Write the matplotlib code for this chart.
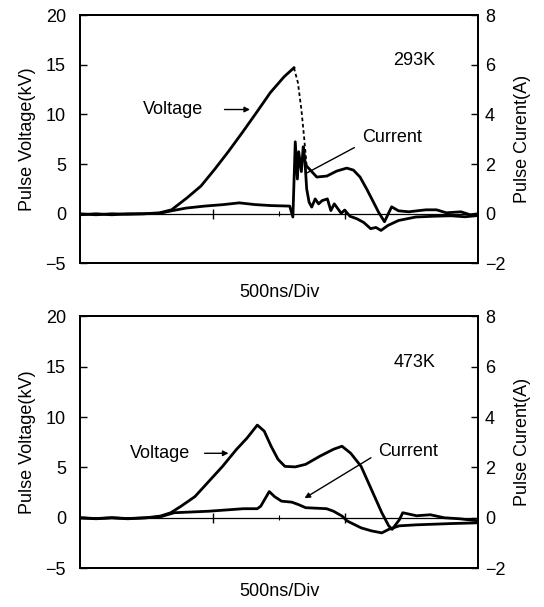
import matplotlib.pyplot as plt

plt.rcParams['font.family'] = ['Liberation Sans', 'DejaVu Sans']

# --- 293K: pulse voltage (kV) and current (A), time in ns (500ns/Div) ---
t_v1 = [0, 60, 120, 180, 240, 300, 345, 403, 456, 508, 560, 612, 665, 717, 769, 806,
        821, 834, 845, 854,
        892, 930, 967, 1005, 1030, 1055, 1080, 1105, 1124, 1147, 1174, 1200, 1239,
        1270, 1304, 1343, 1380, 1435, 1470, 1500]
v1 = [-0.1, 0.0, -0.1, 0.0, 0.0, 0.1, 0.4, 1.6, 2.8, 4.5, 6.3, 8.2, 10.2, 12.2, 13.8, 14.7,
      13.2, 10.5, 7.5, 4.8,
      3.7, 3.8, 4.3, 4.6, 4.4, 3.7, 2.5, 1.2, 0.2, -0.8, 0.7, 0.3, 0.2,
      0.3, 0.4, 0.4, 0.1, 0.2, -0.1, 0.0]
i_peak1, i_drop1 = 15, 19

t_i1 = [0, 60, 120, 180, 240, 300, 345, 400, 470, 540, 600, 660, 720, 790, 802,
        811, 819, 824, 834, 841, 847, 854, 863, 873, 886, 899, 912, 932, 945, 958,
        984, 997, 1017, 1043, 1069, 1095, 1115, 1134, 1160, 1200, 1265, 1330, 1396, 1450, 1500]
i1 = [0.0, -0.04, 0.0, -0.02, 0.0, 0.02, 0.12, 0.23, 0.31, 0.37, 0.44, 0.37, 0.33, 0.31, -0.13,
      2.9, 1.4, 2.5, 1.7, 2.7, 2.2, 1.0, 0.47, 0.27, 0.6, 0.4, 0.53, 0.6, 0.13, 0.4,
      0.02, 0.15, -0.1, -0.2, -0.35, -0.6, -0.55, -0.67, -0.47, -0.27, -0.13, -0.1, -0.08, -0.12, -0.07]

# --- 473K ---
t_v2 = [0, 60, 120, 180, 250, 303, 342, 381, 433, 485, 537, 590, 629, 668, 694, 720,
        746, 772, 811, 850, 903, 955, 987, 1020, 1059, 1098, 1137, 1163, 1176, 1203,
        1216, 1268, 1320, 1372, 1430, 1500]
v2 = [0.0, -0.1, 0.0, -0.1, 0.0, 0.17, 0.5, 1.15, 2.1, 3.6, 5.1, 6.8, 7.9, 9.2, 8.6, 7.1,
      5.8, 5.1, 5.05, 5.3, 6.1, 6.8, 7.1, 6.4, 5.1, 2.8, 0.5, -0.8, -1.15, -0.2,
      0.5, 0.2, 0.3, 0.0, -0.1, -0.3]

t_i2 = [0, 60, 120, 180, 250, 300, 355, 485, 616, 668, 681, 713, 733, 759, 798, 824,
        850, 929, 955, 987, 1007, 1059, 1098, 1137, 1163, 1203, 1268, 1398, 1500]
i2 = [0.0, -0.03, 0.0, -0.03, 0.0, 0.03, 0.2, 0.26, 0.36, 0.36, 0.46, 1.04, 0.84, 0.66, 0.62, 0.52,
      0.4, 0.36, 0.26, 0.07, -0.13, -0.4, -0.52, -0.6, -0.46, -0.32, -0.28, -0.23, -0.2]

panels = [
    dict(tv=t_v1, v=v1, ti=t_i1, i=i1, temp="293K", drop=(i_peak1, i_drop1),
         vtxt=(351, 10.5), varr=((534, 10.5), (651, 10.5)),
         ctxt=(1174, 7.7), carr=((1043, 6.8), (847, 4.0)), chead=False, xpad=15),
    dict(tv=t_v2, v=v2, ti=t_i2, i=i2, temp="473K", drop=None,
         vtxt=(303, 6.4), varr=((459, 6.4), (570, 6.4)),
         ctxt=(1235, 6.6), carr=((1105, 6.1), (837, 1.8)), chead=True, xpad=11),
]

fig = plt.figure(figsize=(5.44, 6.07), dpi=100)
rects = [[0.147, 0.566, 0.732, 0.409], [0.147, 0.064, 0.732, 0.415]]
fs = 13
lw = 2.0

for rect, p in zip(rects, panels):
    ax = fig.add_axes(rect)
    ax.set_xlim(0, 1500)
    ax.set_ylim(-5, 20)
    ax.set_yticks([-5, 0, 5, 10, 15, 20])
    ax.set_xticks([])
    ax.tick_params(axis='y', direction='in', length=5, width=1, labelsize=fs, pad=10)
    for s in ax.spines.values():
        s.set_linewidth(1.4)
    ax.axhline(0, color='black', lw=0.9)
    ax.vlines([500, 1000], -0.5, 0.5, color='black', lw=1)
    ax.vlines([750], -0.25, 0.25, color='black', lw=0.8)

    if p['drop'] is None:
        ax.plot(p['tv'], p['v'], color='black', lw=lw)
    else:
        a, b = p['drop']
        ax.plot(p['tv'][:a + 1], p['v'][:a + 1], color='black', lw=lw)
        ax.plot(p['tv'][a:b + 1], p['v'][a:b + 1], color='black', lw=1.3, ls=(0, (2, 1.5)))
        ax.plot(p['tv'][b:], p['v'][b:], color='black', lw=lw)

    ax.set_ylabel("Pulse Voltage(kV)", fontsize=fs, labelpad=7)
    ax.set_xlabel("500ns/Div", fontsize=fs, labelpad=p['xpad'])

    ax2 = ax.twinx()
    ax2.set_ylim(-2, 8)
    ax2.set_yticks([-2, 0, 2, 4, 6, 8])
    ax2.tick_params(axis='y', direction='in', length=5, width=1, labelsize=fs, pad=5)
    ax2.plot(p['ti'], p['i'], color='black', lw=lw)
    ax2.set_ylabel("Pulse Curent(A)", fontsize=fs, labelpad=6)
    for s in ax2.spines.values():
        s.set_linewidth(1.4)

    ax.text(p['vtxt'][0], p['vtxt'][1], "Voltage", fontsize=fs, ha='center', va='center')
    ax.annotate("", xy=p['varr'][1], xytext=p['varr'][0],
                arrowprops=dict(arrowstyle='-|>', color='black', lw=1, mutation_scale=8))
    ax.text(p['ctxt'][0], p['ctxt'][1], "Current", fontsize=fs, ha='center', va='center')
    ax.annotate("", xy=p['carr'][1], xytext=p['carr'][0],
                arrowprops=dict(arrowstyle='-|>' if p['chead'] else '-', color='black', lw=1,
                                mutation_scale=8))
    ax.text(1260, 15.4, p['temp'], fontsize=fs, ha='center', va='center')

fig.savefig("out.png", dpi=100)
